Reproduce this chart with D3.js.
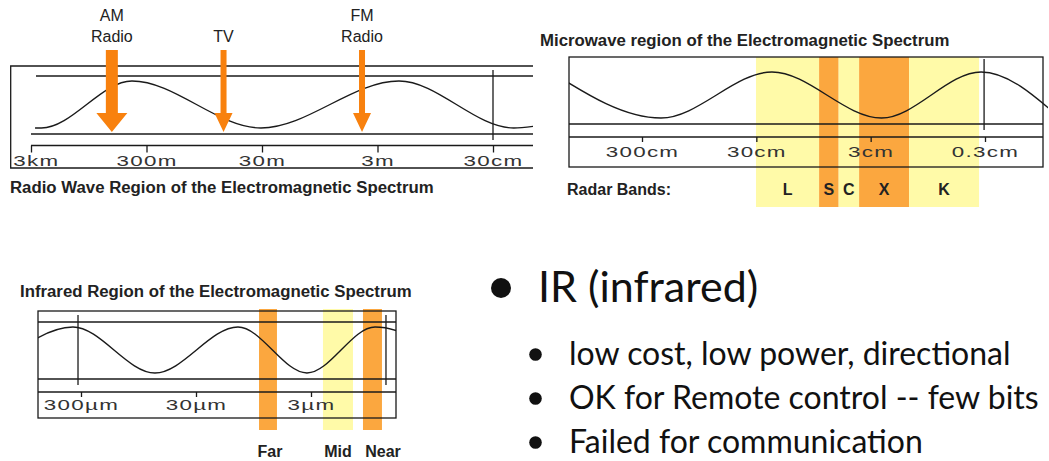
<!DOCTYPE html>
<html>
<head>
<meta charset="utf-8">
<script src="https://cdn.jsdelivr.net/npm/d3@7"></script>
<style>
  body { margin: 0; background: #fff; }
</style>
</head>
<body>
<svg id="chart" width="1049" height="461"></svg>
<script>
// radio wave panel (x in decades from 3km)
const radioTicks = ['3km', '300m', '30m', '3m', '30cm'];
const radioWave = [[0.035, -1], [0.09, -1], [0.874, 1], [1.991, -1], [3.186, 1], [4.18, -1], [4.35, -0.93]];
const radioUses = [['AM', 'Radio'], ['TV'], ['FM', 'Radio']];
const radioUseAt = [0.70, 1.667, 2.866];
const radioMarks = [4];

// microwave panel (x in decades from 300cm)
const microTicks = ['300cm', '30cm', '3cm', '0.3cm'];
const microWave = [[-0.796, 1], [0.166, -1], [1.137, 1], [2.095, -1], [2.966, 1], [3.657, -1]];
const radarBands = ['L', 'S', 'C', 'X', 'K'];
const radarEdges = [0.997, 1.549, 1.72, 1.899, 2.336, 2.948];
const radarKind = ['light', 'dark', 'light', 'dark', 'light'];
const microMarks = [2.992];

// infrared panel (x in decades from 300um)
const irTicks = ['300µm', '30µm', '3µm'];
const irWave = [[-0.783, -1], [-0.07, 1], [0.643, -1], [1.365, 1], [1.965, -1], [2.557, 1], [3.35, -1]];
const irBands = ['Far', 'Mid', 'Near'];
const irEdges = [[1.548, 1.704], [2.104, 2.365], [2.452, 2.617]];
const irKind = ['dark', 'light', 'dark'];
const irLabelAt = [1.643, 2.235, 2.626];
const irMarks = [-0.026, 2.652];

// slide text
const bulletHead = 'IR (infrared)';
const bulletItems = ['low cost, low power, directional', 'OK for Remote control -- few bits', 'Failed for communication'];

const shade = { light: '#fffaa8', dark: '#fba73f' };
const ink = '#1a1a1a';
const arrowColor = '#f8810e';
const sans = '"Liberation Sans", Arial, Helvetica, sans-serif';

const svg = d3.select('#chart');
const defs = svg.append('defs');

function hline(g, x1, x2, y) {
  g.append('line').attr('x1', x1).attr('x2', x2).attr('y1', y).attr('y2', y)
    .attr('stroke', ink).attr('stroke-width', 1.3);
}

function wave(g, id, x, y, pts, clip) {
  defs.append('clipPath').attr('id', id).append('rect')
    .attr('x', clip[0]).attr('y', 0).attr('width', clip[1] - clip[0]).attr('height', 461);
  const line = d3.line().x(d => x(d[0])).y(d => y(d[1])).curve(d3.curveMonotoneX);
  g.append('path').attr('d', line(pts)).attr('clip-path', `url(#${id})`)
    .attr('fill', 'none').attr('stroke', ink).attr('stroke-width', 1.4);
}

function axis(g, x, labels, yPos, size, pad) {
  const ax = g.append('g').attr('transform', `translate(0,${yPos})`)
    .call(d3.axisBottom(x).tickValues(d3.range(labels.length))
      .tickFormat(i => labels[i]).tickSize(size).tickPadding(pad));
  ax.select('.domain').remove();
  ax.selectAll('.tick line').attr('stroke', ink).attr('stroke-width', 1.3);
  ax.selectAll('.tick text')
    .attr('font-family', sans).attr('font-size', 14).attr('fill', '#333')
    .attr('letter-spacing', 0.8)
    .attr('transform', 'scale(1.6,1)');
  return ax;
}

function title(g, txt, x, y, size) {
  g.append('text').attr('x', x).attr('y', y).text(txt)
    .attr('font-family', sans).attr('font-weight', 'bold').attr('font-size', size || 16.8).attr('fill', '#222');
}

// ---------- Radio wave region ----------
{
  const g = svg.append('g');
  const x = d3.scaleLinear().domain([0, 4]).range([31, 493]);
  const y = d3.scaleLinear().domain([-1, 1]).range([128, 81]);

  // frame (right edge runs off the slide)
  g.append('path').attr('d', 'M533,66 H10.7 V168 H533').attr('fill', 'none')
    .attr('stroke', ink).attr('stroke-width', 1.3);
  hline(g, 36, 533, 76);
  hline(g, 31, 533, 134);
  hline(g, 31, 533, 145.5);

  radioMarks.forEach(m => g.append('line').attr('x1', x(m)).attr('x2', x(m)).attr('y1', 70).attr('y2', 140)
    .attr('stroke', ink).attr('stroke-width', 1.3));

  wave(g, 'clipRadio', x, y, radioWave, [35, 533]);

  const ax = axis(g, x, radioTicks, 145.5, 7, 3.5);
  ax.selectAll('.tick text').attr('dx', (d, i) => i === 0 ? 3 : 0);

  // arrows: first one is the broad AM arrow
  radioUseAt.forEach((at, i) => {
    const cx = x(at);
    const w = i === 0 ? 6 : 3;
    const hw = i === 0 ? 15.5 : 9;
    const top = 50, neck = 113, tip = 132;
    g.append('path')
      .attr('d', `M${cx - w},${top} H${cx + w} V${neck} H${cx + hw} L${cx},${tip} L${cx - hw},${neck} H${cx - w} Z`)
      .attr('fill', arrowColor);
    const lines = radioUses[i];
    lines.forEach((t, j) => {
      g.append('text').attr('x', cx).attr('y', 42 - (lines.length - 1 - j) * 21.5)
        .attr('text-anchor', 'middle').text(t)
        .attr('font-family', sans).attr('font-size', 16).attr('fill', '#222');
    });
  });

  title(g, 'Radio Wave Region of the Electromagnetic Spectrum', 10, 193);
}

// ---------- Microwave region ----------
{
  const g = svg.append('g');
  const x = d3.scaleLinear().domain([0, 3]).range([642, 985]);
  const y = d3.scaleLinear().domain([-1, 1]).range([118, 72]);

  g.selectAll('rect.band').data(radarBands).enter().append('rect')
    .attr('class', 'band')
    .attr('x', (d, i) => x(radarEdges[i]))
    .attr('width', (d, i) => x(radarEdges[i + 1]) - x(radarEdges[i]))
    .attr('y', 57).attr('height', 150)
    .attr('fill', (d, i) => shade[radarKind[i]]);

  g.append('rect').attr('x', 569).attr('y', 57).attr('width', 474).attr('height', 110)
    .attr('fill', 'none').attr('stroke', ink).attr('stroke-width', 1.3);
  hline(g, 569, 1043, 124);
  hline(g, 569, 1043, 137);

  microMarks.forEach(m => g.append('line').attr('x1', x(m)).attr('x2', x(m)).attr('y1', 59).attr('y2', 130)
    .attr('stroke', ink).attr('stroke-width', 1.3));

  wave(g, 'clipMicro', x, y, microWave, [569, 1048]);
  axis(g, x, microTicks, 137, 5, 5);

  g.selectAll('text.bandlabel').data(radarBands).enter().append('text')
    .attr('class', 'bandlabel')
    .attr('x', (d, i) => x((radarEdges[i] + radarEdges[i + 1]) / 2))
    .attr('y', 195).attr('text-anchor', 'middle').text(d => d)
    .attr('font-family', sans).attr('font-weight', 'bold').attr('font-size', 16).attr('fill', '#222');

  title(g, 'Radar Bands:', 567, 195, 16);
  title(g, 'Microwave region of the Electromagnetic Spectrum', 540, 46);
}

// ---------- Infrared region ----------
{
  const g = svg.append('g');
  const x = d3.scaleLinear().domain([0, 2]).range([81, 311]);
  const y = d3.scaleLinear().domain([-1, 1]).range([373, 327]);

  g.selectAll('rect.band').data(irBands).enter().append('rect')
    .attr('class', 'band')
    .attr('x', (d, i) => x(irEdges[i][0]))
    .attr('width', (d, i) => x(irEdges[i][1]) - x(irEdges[i][0]))
    .attr('y', 309).attr('height', 121)
    .attr('fill', (d, i) => shade[irKind[i]]);

  g.append('rect').attr('x', 38).attr('y', 311).attr('width', 358).attr('height', 107)
    .attr('fill', 'none').attr('stroke', ink).attr('stroke-width', 1.3);
  hline(g, 38, 396, 322);
  hline(g, 38, 396, 379);
  hline(g, 38, 396, 392);

  irMarks.forEach(m => g.append('line').attr('x1', x(m)).attr('x2', x(m)).attr('y1', 315).attr('y2', 385)
    .attr('stroke', ink).attr('stroke-width', 1.3));

  wave(g, 'clipIr', x, y, irWave, [38, 396]);
  axis(g, x, irTicks, 392, 5, 3);

  g.selectAll('text.bandlabel').data(irBands).enter().append('text')
    .attr('class', 'bandlabel')
    .attr('x', (d, i) => x(irLabelAt[i]))
    .attr('y', 457).attr('text-anchor', 'middle').text(d => d)
    .attr('font-family', sans).attr('font-weight', 'bold').attr('font-size', 16).attr('fill', '#222');

  title(g, 'Infrared Region of the Electromagnetic Spectrum', 20, 297);
}

// ---------- bullet text ----------
{
  const g = svg.append('g').attr('font-family', 'Lato, "Open Sans", sans-serif').attr('fill', '#111');
  g.append('circle').attr('cx', 501).attr('cy', 288).attr('r', 10).attr('fill', '#111');
  g.append('text').attr('x', 538).attr('y', 302).attr('font-size', 43).text(bulletHead);

  bulletItems.forEach((t, i) => {
    const base = 365 + i * 44;
    g.append('circle').attr('cx', 535.5).attr('cy', base - 10.5).attr('r', 6.3).attr('fill', '#111');
    g.append('text').attr('x', 569).attr('y', base).attr('font-size', 32).text(t);
  });
}
</script>
</body>
</html>
